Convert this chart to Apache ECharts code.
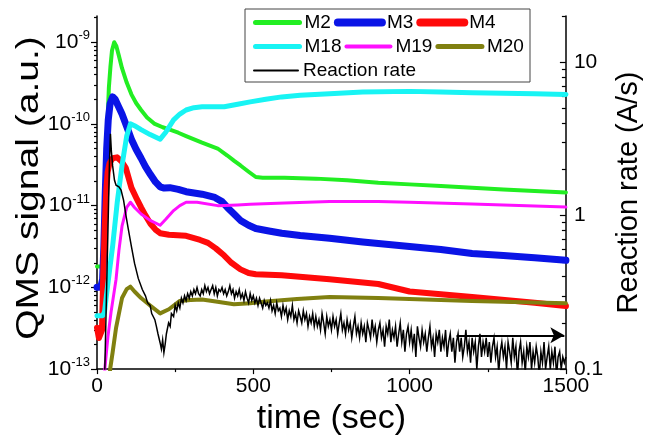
<!DOCTYPE html>
<html><head><meta charset="utf-8">
<script src="https://cdn.jsdelivr.net/npm/echarts@6/dist/echarts.min.js"></script>
<style>html,body{margin:0;padding:0;background:#fff}#c{width:651px;height:441px}</style>
</head><body><div id="c"></div>
<script>
// ---- data ----
const leftMajor = [1e-13, 1e-12, 1e-11, 1e-10, 1e-9];
const rightMajor = [0.1, 1, 10];
const xTicks = [0, 500, 1000, 1500];

const M2 = [[0,1.8e-12],[15,1.8e-12],[22,1.9e-12],[25,3.5e-12],[28,6.3e-12],[31,2.5e-11],[34,1.12e-10],[38,2.8e-10],[43,5.0e-10],[48,7.9e-10],[55,1.0e-9],[62,8.9e-10],[70,6.8e-10],[80,4.8e-10],[95,3.2e-10],[110,2.3e-10],[125,1.8e-10],[141,1.48e-10],[160,1.2e-10],[183,1.01e-10],[210,9.1e-11],[233,8.5e-11],[260,7.8e-11],[285,7.1e-11],[336,5.9e-11],[386,5.0e-11],[417,4.1e-11],[440,3.5e-11],[459,3.1e-11],[485,2.6e-11],[508,2.24e-11],[530,2.2e-11],[600,2.2e-11],[700,2.14e-11],[800,2.04e-11],[900,1.9e-11],[1000,1.82e-11],[1100,1.74e-11],[1200,1.66e-11],[1300,1.58e-11],[1400,1.51e-11],[1500,1.45e-11]];
const M3 = [[0,1.0e-12],[12,1.0e-12],[18,1.26e-12],[22,3.2e-12],[26,1.26e-11],[31,5.0e-11],[36,1.12e-10],[42,1.78e-10],[50,2.14e-10],[58,2.0e-10],[68,1.66e-10],[80,1.32e-10],[95,9.3e-11],[110,6.5e-11],[125,4.9e-11],[141,3.8e-11],[155,3.0e-11],[171,2.4e-11],[187,1.95e-11],[202,1.7e-11],[215,1.64e-11],[233,1.66e-11],[260,1.58e-11],[285,1.48e-11],[336,1.38e-11],[377,1.26e-11],[400,1.12e-11],[417,9.5e-12],[440,7.8e-12],[459,6.6e-12],[485,5.75e-12],[508,5.25e-12],[550,4.9e-12],[591,4.6e-12],[650,4.3e-12],[744,4.0e-12],[850,3.6e-12],[1000,3.16e-12],[1100,2.9e-12],[1200,2.6e-12],[1300,2.45e-12],[1400,2.3e-12],[1500,2.14e-12]];
const M4 = [[0,3.2e-13],[6,2.4e-13],[12,2.4e-13],[16,3.0e-13],[20,1.5e-12],[25,6.0e-12],[30,1.6e-11],[34,2.57e-11],[40,3.3e-11],[50,3.8e-11],[64,3.9e-11],[78,3.5e-11],[92,2.9e-11],[110,1.66e-11],[125,1.26e-11],[141,9.5e-12],[155,7.6e-12],[171,6.0e-12],[187,5.1e-12],[202,4.6e-12],[230,4.4e-12],[285,4.27e-12],[330,3.8e-12],[355,3.5e-12],[380,3.0e-12],[407,2.45e-12],[430,2.0e-12],[459,1.66e-12],[485,1.5e-12],[508,1.45e-12],[591,1.41e-12],[744,1.26e-12],[900,1.1e-12],[1000,8.9e-13],[1200,7.6e-13],[1400,6.5e-13],[1500,5.9e-13]];
const M18 = [[0,4.5e-13],[18,4.5e-13],[24,5.0e-13],[30,7.9e-13],[40,1.6e-12],[50,3.2e-12],[65,1.12e-11],[80,3.1e-11],[95,7.1e-11],[107,1.0e-10],[120,9.5e-11],[141,8.5e-11],[170,7.4e-11],[202,6.5e-11],[220,7.9e-11],[245,1.12e-10],[265,1.32e-10],[285,1.48e-10],[310,1.58e-10],[336,1.62e-10],[407,1.62e-10],[450,1.74e-10],[490,1.86e-10],[540,2.0e-10],[591,2.14e-10],[650,2.24e-10],[744,2.34e-10],[850,2.45e-10],[1000,2.5e-10],[1100,2.45e-10],[1200,2.4e-10],[1300,2.37e-10],[1400,2.34e-10],[1500,2.29e-10]];
const M19 = [[0,5e-14],[20,5e-14],[25,1.0e-13],[35,2.5e-13],[45,5.0e-13],[55,8.9e-13],[61,1.26e-12],[70,2.8e-12],[80,5.6e-12],[95,9.5e-12],[107,1.1e-11],[120,9.5e-12],[141,7.9e-12],[170,6.6e-12],[202,5.75e-12],[220,6.8e-12],[245,8.7e-12],[265,1.0e-11],[285,1.1e-11],[320,1.1e-11],[386,1.0e-11],[450,1.02e-11],[490,1.04e-11],[600,1.08e-11],[744,1.12e-11],[900,1.12e-11],[1000,1.1e-11],[1200,1.05e-11],[1500,9.6e-12]];
const M20 = [[0,5e-14],[38,5e-14],[42,1.0e-13],[50,1.6e-13],[61,3.2e-13],[80,7.4e-13],[95,9.5e-13],[107,1.02e-12],[120,8.9e-13],[141,7.4e-13],[170,6.0e-13],[202,4.8e-13],[230,5.4e-13],[264,6.8e-13],[300,7.0e-13],[336,7.1e-13],[380,6.7e-13],[438,6.2e-13],[490,6.4e-13],[540,6.7e-13],[640,7.2e-13],[744,7.6e-13],[900,7.4e-13],[1000,7.2e-13],[1200,6.8e-13],[1500,6.4e-13]];

// reaction rate: early transient (irregular sampling) ...
const rateEarlyTime = [0,22,25,30,35,40,43,46,50,56,61,70,77,85,92,100,110,120,132,145,155,162,170,175,185,190,195,202,206,210,214,218,222,229,234,238,245];
const rateEarlyVals = [0.05,0.05,0.1,0.284,0.8,2.27,3.41,2.63,2.11,1.70,1.58,1.54,1.47,1.26,1.02,0.82,0.63,0.49,0.39,0.33,0.30,0.27,0.26,0.23,0.21,0.19,0.17,0.148,0.135,0.155,0.128,0.145,0.17,0.2,0.19,0.23,0.22];
// ... then one reading every 5 s from 250 s to 1500 s
const rateLateStart = 250, rateLateStep = 5;
const rateLateVals = [
0.26,0.24,0.27,0.25,0.29,0.27,0.30,0.28,0.31,0.29,
0.32,0.30,0.33,0.31,0.34,0.31,0.30,0.33,0.31,0.35,
0.32,0.34,0.31,0.33,0.35,0.31,0.34,0.30,0.33,0.32,
0.34,0.31,0.33,0.30,0.32,0.35,0.31,0.33,0.29,0.32,
0.30,0.33,0.29,0.31,0.28,0.32,0.29,0.27,0.31,0.28,
0.30,0.27,0.29,0.26,0.29,0.27,0.25,0.28,0.26,0.27,
0.25,0.28,0.24,0.26,0.23,0.27,0.24,0.25,0.22,0.26,
0.23,0.25,0.21,0.24,0.22,0.26,0.21,0.23,0.20,0.24,
0.22,0.20,0.24,0.21,0.23,0.19,0.22,0.20,0.23,0.19,
0.22,0.19,0.21,0.18,0.23,0.20,0.17,0.22,0.19,0.21,
0.18,0.22,0.19,0.21,0.17,0.20,0.23,0.18,0.20,0.17,
0.21,0.18,0.20,0.16,0.19,0.22,0.17,0.19,0.16,0.20,
0.17,0.19,0.15,0.20,0.18,0.16,0.21,0.17,0.19,0.15,
0.18,0.20,0.16,0.18,0.14,0.19,0.17,0.21,0.15,0.18,
0.16,0.19,0.14,0.17,0.20,0.15,0.18,0.13,0.17,0.19,
0.15,0.18,0.14,0.17,0.12,0.19,0.16,0.14,0.18,0.15,
0.17,0.13,0.16,0.19,0.14,0.16,0.12,0.17,0.15,0.18,
0.13,0.16,0.14,0.18,0.12,0.15,0.17,0.13,0.16,0.11,
0.15,0.17,0.13,0.16,0.12,0.14,0.18,0.13,0.15,0.11,
0.16,0.13,0.15,0.10,0.14,0.17,0.12,0.15,0.13,0.16,
0.12,0.15,0.11,0.14,0.16,0.12,0.14,0.095,0.13,0.15,
0.12,0.14,0.10,0.15,0.13,0.11,0.16,0.12,0.14,0.09,
0.13,0.15,0.11,0.13,0.095,0.14,0.12,0.15,0.10,0.13,
0.11,0.14,0.12,0.09,0.13,0.11,0.15,0.10,0.12,0.14,
0.10,0.13,0.11,0.14,0.09,0.12,0.13,0.10,0.12,0.11,
0.12];
const arrowStart = [1150, 0.166];
const arrowEnd = [1495, 0.166];

// ---- chart ----
const FONT = "'Liberation Sans', Arial, sans-serif";
const minorOf = (lo, hi) => { const out = []; for (let e = lo; e <= hi; e++) for (let k = 2; k <= 9; k++) out.push(k * Math.pow(10, e)); return out; };
const rate = rateEarlyTime.map((t, i) => [t, rateEarlyVals[i]])
  .concat(rateLateVals.map((v, i) => [rateLateStart + i * rateLateStep, v]));
const chart = echarts.init(document.getElementById('c'), null, {renderer: 'canvas'});
const mk = (name, data, color, w) => ({name, type: 'line', data, symbol: 'none', lineStyle: {color, width: w, cap: 'round', join: 'round'}, itemStyle: {color}, animation: false});
const legendBase = {left: 253, itemWidth: 44, itemHeight: 14, itemGap: 3, padding: 0, selectedMode: false, textStyle: {fontSize: 19, fontFamily: FONT, color: '#000'}};
const li = (name, w) => ({name, lineStyle: {width: w, cap: 'round'}, itemStyle: {opacity: 0}});
chart.setOption({
  animation: false,
  grid: {left: 97, right: 64, top: 16, bottom: 61},
  graphic: [
    {type: 'rect', shape: {x: 245, y: 9, width: 285, height: 73}, style: {fill: 'none', stroke: '#444', lineWidth: 1}, z: 10},
    {type: 'text', x: 29, y: 188, rotation: Math.PI / 2, scaleX: 1.22, z: 10,
      style: {text: 'QMS signal (a.u.)', font: "32px 'Liberation Sans', Arial, sans-serif", fill: '#000', align: 'center', verticalAlign: 'middle'}}
  ],
  legend: [
    Object.assign({top: 13, data: [li('M2', 5), li('M3', 8), li('M4', 8)]}, legendBase),
    Object.assign({top: 37, data: [li('M18', 5), li('M19', 4), li('M20', 5)]}, legendBase),
    Object.assign({top: 61, data: [li('Reaction rate', 2)]}, legendBase)
  ],
  xAxis: {type: 'value', min: 0, max: 1500, interval: 500,
    axisLine: {lineStyle: {color: '#000', width: 1.5}},
    axisTick: {length: 5, lineStyle: {color: '#000', width: 1.2}},
    minorTick: {show: true, splitNumber: 2, length: 3, lineStyle: {color: '#000', width: 1.2}},
    axisLabel: {customValues: xTicks, fontSize: 21, fontFamily: FONT, color: '#000', margin: 7, formatter: v => String(v)},
    splitLine: {show: false},
    name: 'time (sec)', nameLocation: 'middle', nameGap: 24,
    nameTextStyle: {fontSize: 34, fontFamily: FONT, color: '#000'}},
  yAxis: [
    {type: 'log', min: 1e-13, max: 2.09e-9, position: 'left',
      axisLine: {show: true, lineStyle: {color: '#000', width: 1.5}},
      axisTick: {show: true, customValues: leftMajor, length: 6, lineStyle: {color: '#000', width: 1.2}},
      axisLabel: {customValues: leftMajor, margin: 7, color: '#000',
        formatter: v => '{b|10}{s|' + Math.round(Math.log10(v)) + '}',
        rich: {b: {fontSize: 21, fontFamily: FONT, color: '#000', lineHeight: 26}, s: {fontSize: 13, fontFamily: FONT, color: '#000', verticalAlign: 'top', lineHeight: 14}}},
      splitLine: {show: false}},
    {type: 'log', min: 1e-13, max: 2.09e-9, position: 'left', offset: 0,
      axisLine: {show: false}, axisLabel: {show: false}, splitLine: {show: false},
      axisTick: {show: true, customValues: minorOf(-13, -9), length: 3, lineStyle: {color: '#000', width: 1.2}}},
    {type: 'log', min: 0.1, max: 20, position: 'right',
      axisLine: {show: true, lineStyle: {color: '#000', width: 1.5}},
      axisTick: {show: true, inside: true, customValues: rightMajor, length: 6, lineStyle: {color: '#000', width: 1.2}},
      axisLabel: {customValues: rightMajor, margin: 8, fontSize: 21, fontFamily: FONT, color: '#000', formatter: v => String(v)},
      splitLine: {show: false},
      name: 'Reaction rate (A/s)', nameLocation: 'middle', nameGap: 36,
      nameTextStyle: {fontSize: 29, fontFamily: FONT, color: '#000', padding: [0, 0, 22, 0]}},
    {type: 'log', min: 0.1, max: 20, position: 'right', offset: 0,
      axisLine: {show: false}, axisLabel: {show: false}, splitLine: {show: false},
      axisTick: {show: true, inside: true, customValues: minorOf(-1, 1), length: 4, lineStyle: {color: '#000', width: 1.2}}}
  ],
  series: [
    mk('M2', M2, '#22ee22', 4),
    mk('M3', M3, '#0a14e6', 7),
    mk('M4', M4, '#ff0a0a', 6),
    mk('M18', M18, '#18f4f4', 5),
    mk('M19', M19, '#ff10ff', 3),
    mk('M20', M20, '#808010', 4),
    Object.assign(mk('Reaction rate', rate, '#000', 1.5), {yAxisIndex: 2, z: 5, lineStyle: {color: '#000', width: 1.5, join: 'miter'},
      markLine: {silent: true, symbol: ['none', 'arrow'], symbolSize: [12, 14], label: {show: false},
        lineStyle: {color: '#000', width: 2, type: 'solid'},
        data: [[{coord: arrowStart}, {coord: arrowEnd}]]}})
  ]
});
</script></body></html>
